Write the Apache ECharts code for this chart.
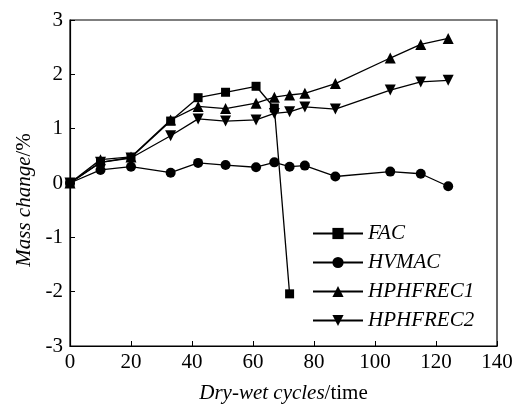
<!DOCTYPE html>
<html>
<head>
<meta charset="utf-8">
<script src="https://cdn.jsdelivr.net/npm/echarts@6/dist/echarts.min.js"></script>
<style>html,body{margin:0;padding:0;background:#fff}#c{width:521px;height:412px}</style>
</head>
<body>
<div id="c"></div>
<script>
var seriesNames = ['FAC', 'HVMAC', 'HPHFREC1', 'HPHFREC2'];
var xFAC = [0, 10, 20, 33, 42, 51, 61, 67, 72];
var yFAC = [0, 0.38, 0.47, 1.14, 1.57, 1.67, 1.78, 1.38, -2.04];
var xAll = [0, 10, 20, 33, 42, 51, 61, 67, 72, 77, 87, 105, 115, 124];
var yHVMAC = [0, 0.24, 0.30, 0.19, 0.37, 0.33, 0.29, 0.38, 0.30, 0.32, 0.12, 0.21, 0.17, -0.06];
var yHPHFREC1 = [0, 0.43, 0.48, 1.16, 1.41, 1.37, 1.47, 1.58, 1.62, 1.65, 1.83, 2.30, 2.55, 2.66];
var yHPHFREC2 = [0, 0.38, 0.46, 0.87, 1.18, 1.14, 1.16, 1.28, 1.31, 1.40, 1.36, 1.71, 1.86, 1.89];
var xTicks = [0, 20, 40, 60, 80, 100, 120, 140];
var yTicks = [-3, -2, -1, 0, 1, 2, 3];

function pairs(xs, ys) { return xs.map(function (x, i) { return [x, ys[i]]; }); }

var font = 'Liberation Serif';
var chart = echarts.init(document.getElementById('c'), null, { renderer: 'canvas' });
function mk(name, xs, ys, symbol, size, rot) {
  return {
    name: name, type: 'line', data: pairs(xs, ys),
    symbol: symbol, symbolSize: size, symbolRotate: rot || 0,
    lineStyle: { color: '#000', width: 1.3 },
    itemStyle: { color: '#000' },
    animation: false
  };
}
chart.setOption({
  backgroundColor: '#fff',
  animation: false,
  grid: { left: 70, top: 20, right: 24, bottom: 66, show: true, borderColor: '#000', borderWidth: 1.2 },
  legend: {
    orient: 'vertical', left: 307, top: 218,
    itemWidth: 50, itemHeight: 14, itemGap: 8,
    data: seriesNames,
    textStyle: { fontFamily: font, fontSize: 21, fontStyle: 'italic', color: '#000' }
  },
  xAxis: {
    type: 'value', min: xTicks[0], max: xTicks[xTicks.length - 1], interval: 20,
    name: '{i|Dry-wet cycles}{n|/time}', nameLocation: 'middle', nameGap: 37,
    nameTextStyle: { rich: {
      i: { fontFamily: font, fontSize: 21, fontStyle: 'italic', color: '#000' },
      n: { fontFamily: font, fontSize: 21, color: '#000' } } },
    axisLine: { onZero: false, lineStyle: { color: '#000', width: 1.2 } },
    axisTick: { inside: true, length: 5, lineStyle: { color: '#000' } },
    axisLabel: { fontFamily: font, fontSize: 21, color: '#000', margin: 6 },
    splitLine: { show: false }
  },
  yAxis: {
    type: 'value', min: yTicks[0], max: yTicks[yTicks.length - 1], interval: 1,
    name: '{i|Mass change}{n|/%}', nameLocation: 'middle', nameGap: 30, nameRotate: 90,
    nameTextStyle: { padding: [0, 34, 0, 0], rich: {
      i: { fontFamily: font, fontSize: 21, fontStyle: 'italic', color: '#000' },
      n: { fontFamily: font, fontSize: 21, color: '#000' } } },
    axisLine: { onZero: false, lineStyle: { color: '#000', width: 1.2 } },
    axisTick: { inside: true, length: 5, lineStyle: { color: '#000' } },
    axisLabel: { fontFamily: font, fontSize: 21, color: '#000', margin: 7 },
    splitLine: { show: false }
  },
  series: [
    mk('FAC', xFAC, yFAC, 'rect', 9),
    mk('HVMAC', xAll, yHVMAC, 'circle', 10),
    mk('HPHFREC1', xAll, yHPHFREC1, 'triangle', 11),
    mk('HPHFREC2', xAll, yHPHFREC2, 'triangle', 11, 180)
  ]
});
</script>
</body>
</html>
